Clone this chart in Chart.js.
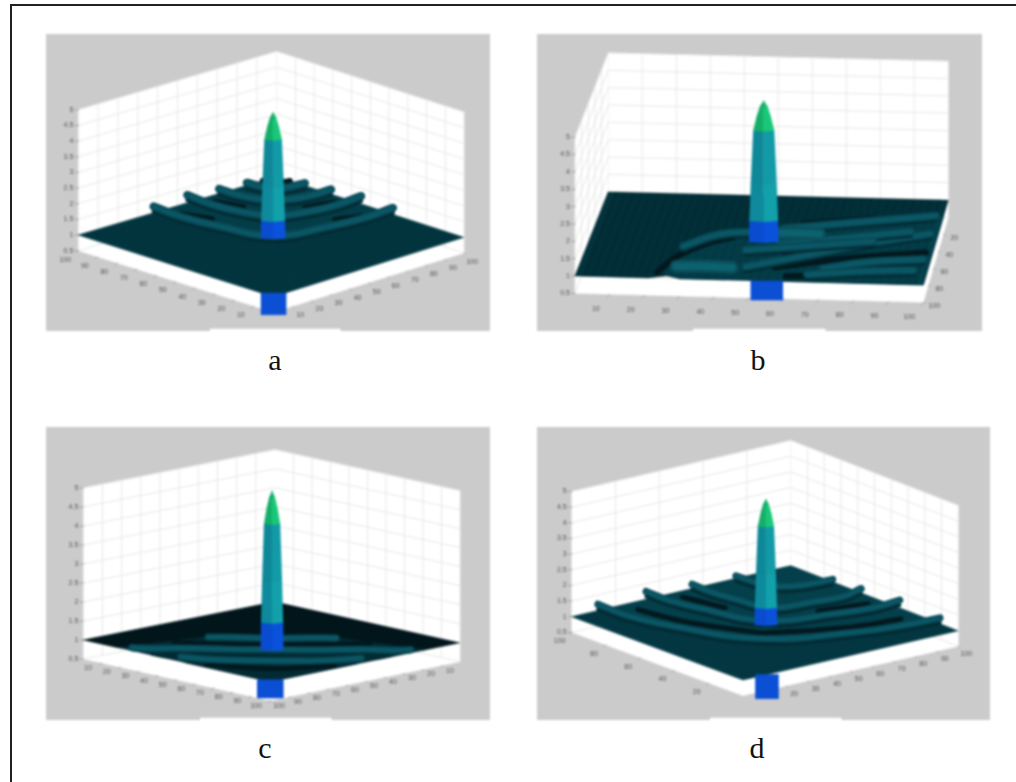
<!DOCTYPE html>
<html>
<head>
<meta charset="utf-8">
<script src="https://cdn.jsdelivr.net/npm/chart.js@4/dist/chart.umd.min.js"></script>
<style>
  body { margin: 0; background: #fff; overflow: hidden; width: 1016px; height: 782px; position: relative; }
  canvas { position: absolute; filter: blur(0.8px); }
  .cap { position: absolute; font: 30px "Liberation Serif", serif; color: #111; transform: translateX(-50%); }
  .rule { position: absolute; background: #222; }
</style>
</head>
<body>
<div class="rule" style="left:10px;top:4px;width:1006px;height:2px"></div>
<div class="rule" style="left:10px;top:4px;width:2px;height:778px"></div>
<canvas id="panelA"></canvas>
<canvas id="panelB"></canvas>
<canvas id="panelC"></canvas>
<canvas id="panelD"></canvas>
<div class="cap" style="left:275px;top:343px">a</div>
<div class="cap" style="left:758px;top:343px">b</div>
<div class="cap" style="left:265px;top:731px">c</div>
<div class="cap" style="left:757px;top:731px">d</div>
<script>
// z axis, same on all four plots
const zTicks = [0.5, 1, 1.5, 2, 2.5, 3, 3.5, 4, 4.5, 5];
const tensTicks = [10, 20, 30, 40, 50, 60, 70, 80, 90, 100];
const twentyTicks = [20, 40, 60, 80, 100];
const dRightTicks = [20, 30, 40, 50, 60, 70, 80, 90, 100];
const bRightTicks = [20, 40, 60, 80, 100];

// central peak
const peakLevels = [1, 1.5, 2.6, 4.1, 4.5, 4.8, 4.97];
const peakRadius = [3.1, 3.0, 2.7, 2.2, 1.5, 0.8, 0];
const peakLeft = ['#0a4cd0', '#0e8a9c', '#0e8898', '#14ae68', '#14ae68', '#14a864'];
const peakRight = ['#0a52dc', '#12a0aa', '#129aa6', '#18c878', '#18c878', '#14b86c'];

// surface outlines [u, v, z]
const floorA = [[0,0,1],[100,0,1],[100,100,1],[0,100,1]];
const floorB = [[0,0,1],[100,0,1],[100,21,1],[97,26,1],[100,30,1],[100,43,1],[97,47,1],[100,51,1],[100,100,1],[0,100,1]];
const floorC = [[0,0,1],[100,0,1],[100,18,1],[97,24,1],[97,32,1],[100,36,1],[100,42,1],[98,48,1],[100,55,1],[100,100,1],[55,100,1],[48,98,1],[42,100,1],[36,100,1],[32,97,1],[24,97,1],[18,100,1],[0,100,1]];
const floorD = [[0,0,1],[100,0,1],[100,100,1],[0,100,1]];
const patchC = [[100,18,1],[60,28,1],[44,44,1],[28,60,1],[18,100,1],[100,100,1]];
const patchA = [[62,0,1],[62,14,1],[59,30,1],[52,52,1],[30,59,1],[14,62,1],[0,62,1],[0,0,1]];
const patchB = [[93,23,1],[74,27,1],[58,34,1],[50,41,1],[30,60,1],[20,100,1],[100,100,1],[100,30,1]];
const patchD = [[88,0,1],[87,14,1],[82,32,1],[65,66,1],[32,82,1],[14,87,1],[0,89,1],[0,0,1]];

// ripples on the surface [u, v, z]
const ridgesA = [
  [[62,0,1.2],[62,14,1.16],[59,30,1.12],[52,52,1.1],[30,59,1.12],[14,62,1.16],[0,62,1.2]],
  [[45,0,1.25],[45,12,1.2],[43,24,1.18],[37,37,1.16],[24,43,1.18],[12,45,1.2],[0,45,1.25]],
  [[29,0,1.15],[29,10,1.15],[27,18,1.15],[23,23,1.15],[18,27,1.15],[10,29,1.15],[0,29,1.15]],
  [[15,0,1.08],[14,8,1.08],[11,11,1.08],[8,14,1.08],[0,15,1.08]]
];
const darksA = [
  [[56,8,1],[52,20,1]], [[10,56,1],[20,52,1]],
  [[37,6,1],[34,18,1]], [[6,37,1],[18,34,1]],
  [[7,0,1],[6,6,1],[0,7,1]]
];
const blobsA = [];
const ridgesB = [
  [[66,28,1.1],[51,37,1.1],[48,48,1.12],[47,66,1.1]],
  [[88,48,1.1],[74,63,1.1],[57,81,1.1],[44,98,1.1]],
  [[40,55,1.05],[30,78,1.06],[22,98,1.08]],
  [[86,70,1.05],[77,82,1.05],[72,98,1.05]],
  [[58,55,1.04],[50,72,1.05],[40,92,1.05]],
  [[66,46,1.04],[60,62,1.04],[52,82,1.04]],
  [[92,66,1.02],[86,84,1.02],[84,96,1.02]]
];
const darksB = [
  [[93,23,1],[74,27,1],[58,34,1],[50,41,1]],
  [[70,58,1],[56,72,1],[44,90,1]],
  [[84,56,1],[70,78,1],[62,98,1]],
  [[32,60,1],[24,80,1]],
  [[94,60,1],[90,80,1]]
];
const blobsB = [
  [[88,28,1.06],[87,36,1.06],[87,44,1.04]],
  [[49,50,1.1],[47,58,1.1],[47,66,1.08]]
];
const ridgesC = [
  [[96,22,1],[92,28,1],[85,35,1.02],[72,50,1.02],[61,61,1.02],[50,72,1.02],[35,85,1.02],[28,92,1],[22,96,1]],
  [[94,46,1],[88,58,1],[74,74,1],[58,88,1],[46,94,1]],
  [[64,30,1.04],[56,38,1.04],[48,48,1.04],[38,56,1.04],[30,64,1.04]],
  [[42,46,1.03],[46,46,1.03],[46,42,1.03]]
];
const darksC = [
  [[78,26,1],[56,52,1],[26,78,1]],
  [[96,62,1],[84,84,1],[62,96,1]]
];
const blobsC = [];
const ridgesD = [
  [[88,0,1.2],[87,14,1.14],[82,32,1.1],[65,66,1.08],[32,82,1.1],[14,87,1.14],[0,89,1.18]],
  [[66,0,1.25],[65,12,1.2],[61,26,1.16],[51,51,1.12],[26,61,1.16],[12,65,1.2],[0,65,1.25]],
  [[45,0,1.14],[45,10,1.12],[43,22,1.1],[39,39,1.1],[22,43,1.1],[10,45,1.12],[0,42,1.14]],
  [[25,0,1.08],[24,12,1.08],[20,20,1.08],[12,24,1.08],[0,25,1.08]]
];
const darksD = [
  [[76,8,1],[72,30,1],[58,60,1]], [[8,76,1],[30,72,1],[60,58,1]],
  [[54,6,1],[50,26,1]], [[6,54,1],[26,50,1]]
];
const blobsD = [];

// how each plot looks from its camera (page pixels)
const views = [
  { id: 'panelA', box: [46, 34, 490, 331], notch: [210, 340],
    back: [276.7, 176.7], left: [78.3, 235], right: [464, 237.3], front: [273.3, 296.7], zPx: 31.3, radiusPx: 4,
    floor: floorA, floorColor: '#033a45', patch: patchA, patchColor: '#04434f', ridges: ridgesA, darks: darksA, blobs: blobsA, ridgeWidth: 7, shadow: 0.16,
    block: { at: [100, 100], top: 1.12, bottom: 0.42, half: 12.5 }, baseZ: 0.95,
    gridU: tensTicks, gridV: tensTicks,
    axes: [
      { ticks: tensTicks, from: [100, 100], to: [100, 0], off: [-13, 9] },
      { ticks: tensTicks, from: [100, 100], to: [0, 100], off: [8, 9] }
    ] },
  { id: 'panelB', box: [537, 34, 982, 331], notch: [693, 825],
    back: [608.3, 191.7], left: [575, 276], right: [948.3, 200], front: [923.3, 285], zPx: 34.7, radiusPx: 4.8,
    floor: floorB, floorColor: '#03323c', patch: patchB, patchColor: '#04404c', ridges: ridgesB, darks: darksB, blobs: blobsB, ridgeWidth: 7, shadow: 0.12,
    block: { at: [100, 55], top: 1, bottom: 0.45, half: 16 }, baseZ: 0.9,
    gridU: twentyTicks, gridV: tensTicks,
    axes: [
      { ticks: tensTicks, from: [100, 0], to: [100, 100], off: [-14, 15] },
      { ticks: bRightTicks, from: [0, 100], to: [100, 100], off: [11, 4] }
    ] },
  { id: 'panelC', box: [46, 427, 490, 720], notch: [200, 331],
    back: [275, 601.7], left: [83.3, 640], right: [460, 642.7], front: [270, 681.7], zPx: 38, radiusPx: 3.7,
    floor: floorC, floorColor: '#031a20', patch: patchC, patchColor: '#04323c', ridges: ridgesC, darks: darksC, blobs: blobsC, ridgeWidth: 6, shadow: 0.05,
    block: { at: [100, 100], top: 1.05, bottom: 0.57, half: 13 }, baseZ: 0.78,
    gridU: tensTicks, gridV: tensTicks,
    axes: [
      { ticks: tensTicks, from: [100, 0], to: [100, 100], off: [-14, 5] },
      { ticks: tensTicks, from: [0, 100], to: [100, 100], off: [9, 5] }
    ] },
  { id: 'panelD', box: [537, 427, 990, 720], notch: [710, 841],
    back: [790.7, 565.7], left: [571.7, 616.7], right: [958.3, 630.7], front: [743, 680], zPx: 31.3, radiusPx: 3.7,
    floor: floorD, floorColor: '#043c48', patch: patchD, patchColor: '#054652', ridges: ridgesD, darks: darksD, blobs: blobsD, ridgeWidth: 6, shadow: 0.16,
    block: { at: [89, 100], top: 1, bottom: 0.23, half: 11.5 }, baseZ: 0.95,
    gridU: twentyTicks, gridV: tensTicks,
    axes: [
      { ticks: twentyTicks, from: [100, 100], to: [100, 0], off: [-12, 9] },
      { ticks: dRightTicks, from: [100, 100], to: [0, 100], off: [8, 8] }
    ] }
];

// bilinear over the floor corners, z lifts straight up
function project(view, u, v, z) {
  const a = u / 100, b = v / 100;
  const tx = view.back[0] * (1 - b) + view.right[0] * b, ty = view.back[1] * (1 - b) + view.right[1] * b;
  const bx = view.left[0] * (1 - b) + view.front[0] * b, by = view.left[1] * (1 - b) + view.front[1] * b;
  return { x: tx * (1 - a) + bx * a, y: ty * (1 - a) + by * a - (z - 1) * view.zPx };
}

function poly(points, color) {
  return { data: points, backgroundColor: color, borderColor: color, borderWidth: 0.5, fill: 'shape', pointRadius: 0, tension: 0 };
}
function stroke(points, color, width, tension) {
  return { data: points, borderColor: color, borderWidth: width, fill: false, pointRadius: 0, tension: tension || 0, borderCapStyle: 'round', borderJoinStyle: 'round' };
}

function buildDatasets(view) {
  const p = (u, v, z) => project(view, u, v, z);
  const sets = [];
  const y1 = view.box[3];

  // white walls and plate
  sets.push(poly([p(0,0,0.5), p(100,0,0.5), p(100,0,5), p(0,0,5)], '#ffffff'));
  sets.push(poly([p(0,0,0.5), p(0,100,0.5), p(0,100,5), p(0,0,5)], '#ffffff'));
  sets.push(poly([p(0,0,0.5), p(100,0,0.5), p(100,100,0.5), p(0,100,0.5)], '#ffffff'));
  sets.push(poly([{x: view.notch[0], y: y1 - 2}, {x: view.notch[1], y: y1 - 2}, {x: view.notch[1], y: y1}, {x: view.notch[0], y: y1}], '#ffffff'));

  // grid
  view.gridU.forEach(t => sets.push(stroke([p(t,0,0.5), p(t,0,5)], '#e8e8e8', 1)));
  view.gridV.forEach(t => sets.push(stroke([p(0,t,0.5), p(0,t,5)], '#e8e8e8', 1)));
  zTicks.forEach(z => {
    sets.push(stroke([p(100,0,z), p(0,0,z), p(0,100,z)], '#e8e8e8', 1));
    const m = p(100, 0, z);
    sets.push(stroke([m, {x: m.x - 3, y: m.y}], '#9a9a9a', 1));
  });

  // axis tick marks
  view.axes.forEach(ax => {
    ax.ticks.forEach(t => {
      const u = ax.from[0] + (ax.to[0] - ax.from[0]) * t / 100;
      const v = ax.from[1] + (ax.to[1] - ax.from[1]) * t / 100;
      const m = p(u, v, 0.5);
      sets.push(stroke([m, {x: m.x + ax.off[0] * 0.2, y: m.y + ax.off[1] * 0.2}], '#aaaaaa', 1));
    });
  });

  // surface
  sets.push(poly(view.floor.map(q => p(q[0], q[1], q[2])), view.floorColor));
  if (view.patch) sets.push(poly(view.patch.map(q => p(q[0], q[1], q[2])), view.patchColor));
  for (let t = 0; t <= 100; t += 2.5) {
    sets.push(stroke([p(t,2,1), p(t,98,1)], 'rgba(0,0,0,0.2)', 0.7));
    sets.push(stroke([p(2,t,1), p(98,t,1)], 'rgba(0,0,0,0.2)', 0.7));
  }
  view.darks.forEach(d => sets.push(stroke(d.map(q => p(q[0], q[1], q[2])), '#02181e', view.ridgeWidth - 1, 0.4)));
  view.ridges.forEach(r => {
    const w = view.ridgeWidth;
    sets.push(stroke(r.map(q => p(q[0], q[1], q[2] - view.shadow)), '#032a33', w * 0.6, 0.45));
    sets.push(stroke(r.map(q => p(q[0], q[1], q[2])), '#084854', w * 1.2, 0.45));
    sets.push(stroke(r.map(q => p(q[0], q[1], q[2])), '#0b5766', w * 0.65, 0.45));
  });
  view.blobs.forEach(r => {
    sets.push(stroke(r.map(q => p(q[0], q[1], q[2])), '#0a4f58', 13, 0.4));
    sets.push(stroke(r.map(q => p(q[0], q[1], q[2])), '#0c6270', 7, 0.4));
  });

  // blue stub at the front of the plate
  const b = view.block, bt = p(b.at[0], b.at[1], b.top), bb = p(b.at[0], b.at[1], b.bottom);
  sets.push(poly([{x: bt.x - b.half, y: bt.y}, {x: bt.x + b.half, y: bt.y}, {x: bt.x + b.half, y: bb.y}, {x: bt.x - b.half, y: bb.y}], '#0a4fd4'));

  // central peak, left and right facets per band
  const c = p(50, 50, 1);
  const lvl = peakLevels.slice();
  lvl[0] = view.baseZ;
  for (let i = 0; i < lvl.length - 1; i++) {
    const y0p = p(50, 50, lvl[i]).y, y1p = p(50, 50, lvl[i + 1]).y;
    const r0 = peakRadius[i] * view.radiusPx, r1 = peakRadius[i + 1] * view.radiusPx;
    sets.push(poly([{x: c.x - r0, y: y0p}, {x: c.x, y: y0p + 1}, {x: c.x, y: y1p}, {x: c.x - r1, y: y1p}], peakLeft[i]));
    sets.push(poly([{x: c.x + r0, y: y0p}, {x: c.x, y: y0p + 1}, {x: c.x, y: y1p}, {x: c.x + r1, y: y1p}], peakRight[i]));
  }
  // chart.js paints dataset 0 last
  return sets.reverse();
}

const tickText = {
  id: 'tickText',
  afterDraw(chart) {
    const view = chart.options.plugins.tickText.view;
    const ctx = chart.ctx, sx = chart.scales.x, sy = chart.scales.y;
    ctx.save();
    ctx.font = '7px "Liberation Sans", sans-serif';
    ctx.fillStyle = '#555';
    ctx.textBaseline = 'middle';
    ctx.textAlign = 'right';
    zTicks.forEach(z => {
      const m = project(view, 100, 0, z);
      ctx.fillText(String(z), sx.getPixelForValue(m.x) - 5, sy.getPixelForValue(m.y));
    });
    ctx.textAlign = 'center';
    view.axes.forEach(ax => {
      ax.ticks.forEach(t => {
        const u = ax.from[0] + (ax.to[0] - ax.from[0]) * t / 100;
        const v = ax.from[1] + (ax.to[1] - ax.from[1]) * t / 100;
        const m = project(view, u, v, 0.5);
        ctx.fillText(String(t), sx.getPixelForValue(m.x) + ax.off[0], sy.getPixelForValue(m.y) + ax.off[1]);
      });
    });
    ctx.restore();
  }
};

views.forEach(view => {
  const [x0, y0, x1, y1] = view.box;
  const canvas = document.getElementById(view.id);
  canvas.width = x1 - x0;
  canvas.height = y1 - y0;
  canvas.style.left = x0 + 'px';
  canvas.style.top = y0 + 'px';
  canvas.style.background = '#cbcbcb';
  new Chart(canvas, {
    type: 'line',
    data: { datasets: buildDatasets(view) },
    options: {
      responsive: false,
      animation: false,
      events: [],
      layout: { padding: 0 },
      plugins: { legend: { display: false }, tooltip: { enabled: false }, tickText: { view: view } },
      scales: {
        x: { type: 'linear', min: x0, max: x1, display: false },
        y: { type: 'linear', min: y0, max: y1, reverse: true, display: false }
      }
    },
    plugins: [tickText]
  });
});
</script>
</body>
</html>
